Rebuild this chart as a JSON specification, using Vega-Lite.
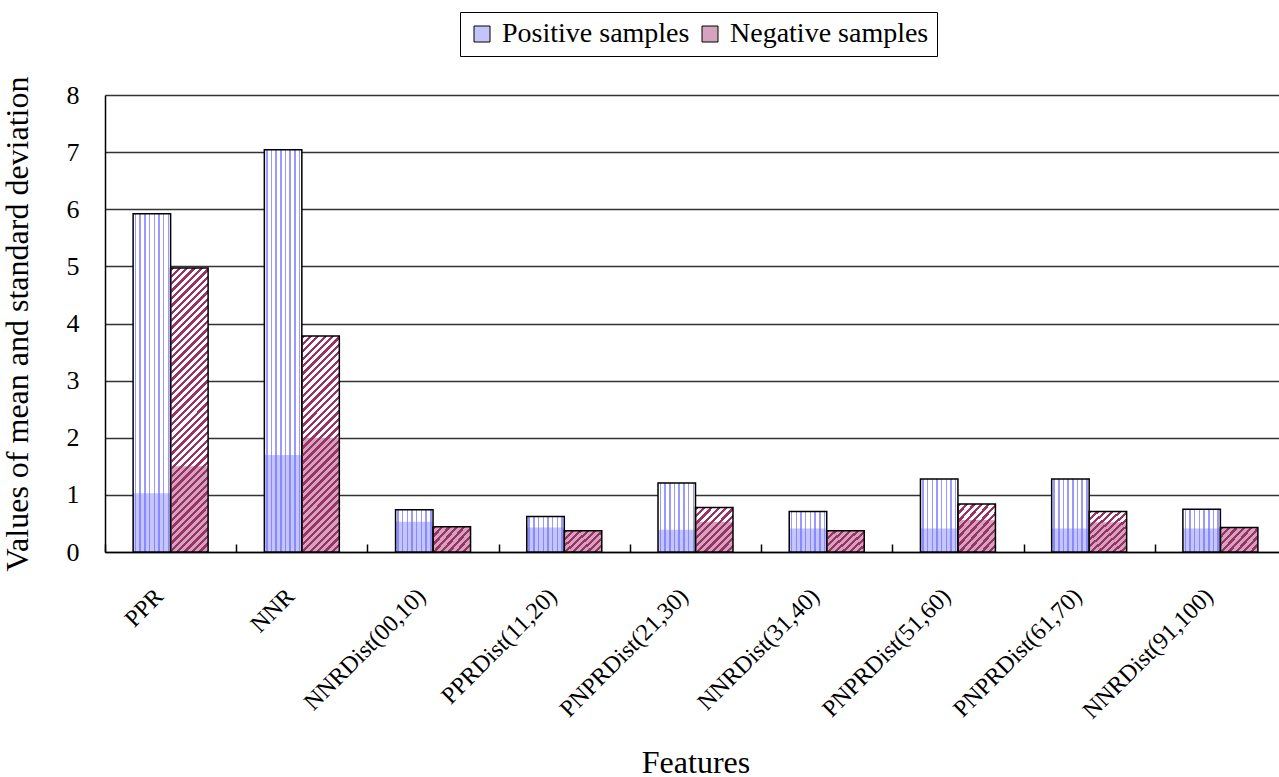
{
"$schema": "https://vega.github.io/schema/vega-lite/v6.json",
"autosize": {"type": "none"},
"width": 1174,
"height": 457,
"padding": {"left": 105, "top": 95, "right": 0, "bottom": 225},
"background": "white",
"data": {"values": [
{"feature":"PPR","sample":"Positive samples","mean":5.92,"sd":1.03},
{"feature":"PPR","sample":"Negative samples","mean":4.97,"sd":1.5},
{"feature":"NNR","sample":"Positive samples","mean":7.04,"sd":1.7},
{"feature":"NNR","sample":"Negative samples","mean":3.78,"sd":2.0},
{"feature":"NNRDist(00,10)","sample":"Positive samples","mean":0.74,"sd":0.53},
{"feature":"NNRDist(00,10)","sample":"Negative samples","mean":0.44,"sd":0.44},
{"feature":"PPRDist(11,20)","sample":"Positive samples","mean":0.62,"sd":0.43},
{"feature":"PPRDist(11,20)","sample":"Negative samples","mean":0.37,"sd":0.37},
{"feature":"PNPRDist(21,30)","sample":"Positive samples","mean":1.21,"sd":0.39},
{"feature":"PNPRDist(21,30)","sample":"Negative samples","mean":0.78,"sd":0.53},
{"feature":"NNRDist(31,40)","sample":"Positive samples","mean":0.71,"sd":0.41},
{"feature":"NNRDist(31,40)","sample":"Negative samples","mean":0.37,"sd":0.37},
{"feature":"PNPRDist(51,60)","sample":"Positive samples","mean":1.28,"sd":0.41},
{"feature":"PNPRDist(51,60)","sample":"Negative samples","mean":0.84,"sd":0.56},
{"feature":"PNPRDist(61,70)","sample":"Positive samples","mean":1.28,"sd":0.41},
{"feature":"PNPRDist(61,70)","sample":"Negative samples","mean":0.71,"sd":0.52},
{"feature":"NNRDist(91,100)","sample":"Positive samples","mean":0.75,"sd":0.41},
{"feature":"NNRDist(91,100)","sample":"Negative samples","mean":0.43,"sd":0.43}
]},
"encoding": {
"x": {"field": "feature", "type": "nominal", "sort": null,
"scale": {"range": [0, 1181], "paddingInner": 0, "paddingOuter": 0},
"axis": {"title": "Features", "titleFontSize": 32, "titlePadding": 24, "labelFontSize": 24, "labelAngle": -45, "labelAlign": "right", "labelBaseline": "top", "labelPadding": 40, "labelOffset": -20, "labelLimit": 0, "labelOverlap": false, "ticks": true, "tickBand": "extent", "tickSize": -8, "tickColor": "#000000", "tickWidth": 1.5, "domainColor": "#000000", "domainWidth": 1.5, "grid": false}},
"xOffset": {"field": "sample", "type": "nominal", "sort": ["Positive samples", "Negative samples"], "scale": {"domain": ["Positive samples", "Negative samples"], "paddingInner": 0, "paddingOuter": 0.75}}
},
"layer": [
{"mark": {"type": "bar", "fill": "white"},
"encoding": {"y": {"field": "mean", "type": "quantitative", "title": "Values of mean and standard deviation",
"scale": {"domain": [0, 8], "nice": false},
"axis": {"values": [0,1,2,3,4,5,6,7,8], "format": "d", "ticks": false, "grid": true, "gridColor": "#333333", "gridWidth": 1.5, "domainColor": "#000000", "domainWidth": 1.5, "labelFontSize": 26, "labelPadding": 26, "titleFontSize": 32, "titlePadding": 32, "labelFlush": false}}}},
{"mark": {"type": "bar"},
"encoding": {"y": {"field": "sd", "type": "quantitative", "title": "Values of mean and standard deviation"},
"fill": {"field": "sample", "type": "nominal", "scale": {"domain": ["Positive samples", "Negative samples"], "range": ["#c4c4ff", "#d5a3bd"]},
"legend": {"title": null, "orient": "none", "legendX": 355, "legendY": -83, "direction": "horizontal", "strokeColor": "#000000", "fillColor": "white", "padding": 8, "labelFontSize": 28, "labelFont": "Liberation Serif", "labelLimit": 0, "symbolType": "square", "symbolSize": 256, "symbolStrokeColor": "#000000", "symbolStrokeWidth": 1, "columnPadding": 6, "labelOffset": 6}}}},
{"transform": [{"filter": "datum.sample === 'Positive samples'"}],
"mark": {"type": "bar", "stroke": "#000000", "strokeWidth": 1.5,
"fill": {"gradient": "linear", "x1": 0, "y1": 0, "x2": 1, "y2": 0, "stops": [
{"offset":0.045,"color":"#6e6eff00"},{"offset":0.045,"color":"#6e6effb3"},{"offset":0.085,"color":"#6e6effb3"},{"offset":0.085,"color":"#6e6eff00"},
{"offset":0.17,"color":"#6e6eff00"},{"offset":0.17,"color":"#6e6effb3"},{"offset":0.21,"color":"#6e6effb3"},{"offset":0.21,"color":"#6e6eff00"},
{"offset":0.295,"color":"#6e6eff00"},{"offset":0.295,"color":"#6e6effb3"},{"offset":0.335,"color":"#6e6effb3"},{"offset":0.335,"color":"#6e6eff00"},
{"offset":0.42,"color":"#6e6eff00"},{"offset":0.42,"color":"#6e6effb3"},{"offset":0.46,"color":"#6e6effb3"},{"offset":0.46,"color":"#6e6eff00"},
{"offset":0.545,"color":"#6e6eff00"},{"offset":0.545,"color":"#6e6effb3"},{"offset":0.585,"color":"#6e6effb3"},{"offset":0.585,"color":"#6e6eff00"},
{"offset":0.67,"color":"#6e6eff00"},{"offset":0.67,"color":"#6e6effb3"},{"offset":0.71,"color":"#6e6effb3"},{"offset":0.71,"color":"#6e6eff00"},
{"offset":0.795,"color":"#6e6eff00"},{"offset":0.795,"color":"#6e6effb3"},{"offset":0.835,"color":"#6e6effb3"},{"offset":0.835,"color":"#6e6eff00"},
{"offset":0.92,"color":"#6e6eff00"},{"offset":0.92,"color":"#6e6effb3"},{"offset":0.96,"color":"#6e6effb3"},{"offset":0.96,"color":"#6e6eff00"}
]}},
"encoding": {"y": {"field": "mean", "type": "quantitative", "title": "Values of mean and standard deviation"}}},
{"transform": [{"filter": "datum.sample === 'Negative samples' && datum.mean > 4.5"}],
"mark": {"type": "bar", "stroke": "#000000", "strokeWidth": 1.5,
"fill": {"gradient": "linear", "x1": 0, "y1": 0, "x2": 0.16943, "y2": 1.28179, "stops": [
{"offset":0,"color":"#993366"},{"offset":0.009,"color":"#993366"},{"offset":0.009,"color":"#99336600"},
{"offset":0.02,"color":"#99336600"},{"offset":0.02,"color":"#993366"},{"offset":0.029,"color":"#993366"},{"offset":0.029,"color":"#99336600"},
{"offset":0.04,"color":"#99336600"},{"offset":0.04,"color":"#993366"},{"offset":0.049,"color":"#993366"},{"offset":0.049,"color":"#99336600"},
{"offset":0.06,"color":"#99336600"},{"offset":0.06,"color":"#993366"},{"offset":0.069,"color":"#993366"},{"offset":0.069,"color":"#99336600"},
{"offset":0.08,"color":"#99336600"},{"offset":0.08,"color":"#993366"},{"offset":0.089,"color":"#993366"},{"offset":0.089,"color":"#99336600"},
{"offset":0.1,"color":"#99336600"},{"offset":0.1,"color":"#993366"},{"offset":0.109,"color":"#993366"},{"offset":0.109,"color":"#99336600"},
{"offset":0.12,"color":"#99336600"},{"offset":0.12,"color":"#993366"},{"offset":0.129,"color":"#993366"},{"offset":0.129,"color":"#99336600"},
{"offset":0.14,"color":"#99336600"},{"offset":0.14,"color":"#993366"},{"offset":0.149,"color":"#993366"},{"offset":0.149,"color":"#99336600"},
{"offset":0.16,"color":"#99336600"},{"offset":0.16,"color":"#993366"},{"offset":0.169,"color":"#993366"},{"offset":0.169,"color":"#99336600"},
{"offset":0.18,"color":"#99336600"},{"offset":0.18,"color":"#993366"},{"offset":0.189,"color":"#993366"},{"offset":0.189,"color":"#99336600"},
{"offset":0.2,"color":"#99336600"},{"offset":0.2,"color":"#993366"},{"offset":0.209,"color":"#993366"},{"offset":0.209,"color":"#99336600"},
{"offset":0.22,"color":"#99336600"},{"offset":0.22,"color":"#993366"},{"offset":0.229,"color":"#993366"},{"offset":0.229,"color":"#99336600"},
{"offset":0.24,"color":"#99336600"},{"offset":0.24,"color":"#993366"},{"offset":0.249,"color":"#993366"},{"offset":0.249,"color":"#99336600"},
{"offset":0.26,"color":"#99336600"},{"offset":0.26,"color":"#993366"},{"offset":0.269,"color":"#993366"},{"offset":0.269,"color":"#99336600"},
{"offset":0.28,"color":"#99336600"},{"offset":0.28,"color":"#993366"},{"offset":0.289,"color":"#993366"},{"offset":0.289,"color":"#99336600"},
{"offset":0.3,"color":"#99336600"},{"offset":0.3,"color":"#993366"},{"offset":0.309,"color":"#993366"},{"offset":0.309,"color":"#99336600"},
{"offset":0.32,"color":"#99336600"},{"offset":0.32,"color":"#993366"},{"offset":0.329,"color":"#993366"},{"offset":0.329,"color":"#99336600"},
{"offset":0.34,"color":"#99336600"},{"offset":0.34,"color":"#993366"},{"offset":0.349,"color":"#993366"},{"offset":0.349,"color":"#99336600"},
{"offset":0.36,"color":"#99336600"},{"offset":0.36,"color":"#993366"},{"offset":0.369,"color":"#993366"},{"offset":0.369,"color":"#99336600"},
{"offset":0.38,"color":"#99336600"},{"offset":0.38,"color":"#993366"},{"offset":0.389,"color":"#993366"},{"offset":0.389,"color":"#99336600"},
{"offset":0.4,"color":"#99336600"},{"offset":0.4,"color":"#993366"},{"offset":0.409,"color":"#993366"},{"offset":0.409,"color":"#99336600"},
{"offset":0.42,"color":"#99336600"},{"offset":0.42,"color":"#993366"},{"offset":0.429,"color":"#993366"},{"offset":0.429,"color":"#99336600"},
{"offset":0.44,"color":"#99336600"},{"offset":0.44,"color":"#993366"},{"offset":0.449,"color":"#993366"},{"offset":0.449,"color":"#99336600"},
{"offset":0.46,"color":"#99336600"},{"offset":0.46,"color":"#993366"},{"offset":0.469,"color":"#993366"},{"offset":0.469,"color":"#99336600"},
{"offset":0.48,"color":"#99336600"},{"offset":0.48,"color":"#993366"},{"offset":0.489,"color":"#993366"},{"offset":0.489,"color":"#99336600"},
{"offset":0.5,"color":"#99336600"},{"offset":0.5,"color":"#993366"},{"offset":0.509,"color":"#993366"},{"offset":0.509,"color":"#99336600"},
{"offset":0.52,"color":"#99336600"},{"offset":0.52,"color":"#993366"},{"offset":0.529,"color":"#993366"},{"offset":0.529,"color":"#99336600"},
{"offset":0.54,"color":"#99336600"},{"offset":0.54,"color":"#993366"},{"offset":0.549,"color":"#993366"},{"offset":0.549,"color":"#99336600"},
{"offset":0.56,"color":"#99336600"},{"offset":0.56,"color":"#993366"},{"offset":0.569,"color":"#993366"},{"offset":0.569,"color":"#99336600"},
{"offset":0.58,"color":"#99336600"},{"offset":0.58,"color":"#993366"},{"offset":0.589,"color":"#993366"},{"offset":0.589,"color":"#99336600"},
{"offset":0.6,"color":"#99336600"},{"offset":0.6,"color":"#993366"},{"offset":0.609,"color":"#993366"},{"offset":0.609,"color":"#99336600"},
{"offset":0.62,"color":"#99336600"},{"offset":0.62,"color":"#993366"},{"offset":0.629,"color":"#993366"},{"offset":0.629,"color":"#99336600"},
{"offset":0.64,"color":"#99336600"},{"offset":0.64,"color":"#993366"},{"offset":0.649,"color":"#993366"},{"offset":0.649,"color":"#99336600"},
{"offset":0.66,"color":"#99336600"},{"offset":0.66,"color":"#993366"},{"offset":0.669,"color":"#993366"},{"offset":0.669,"color":"#99336600"},
{"offset":0.68,"color":"#99336600"},{"offset":0.68,"color":"#993366"},{"offset":0.689,"color":"#993366"},{"offset":0.689,"color":"#99336600"},
{"offset":0.7,"color":"#99336600"},{"offset":0.7,"color":"#993366"},{"offset":0.709,"color":"#993366"},{"offset":0.709,"color":"#99336600"},
{"offset":0.72,"color":"#99336600"},{"offset":0.72,"color":"#993366"},{"offset":0.729,"color":"#993366"},{"offset":0.729,"color":"#99336600"},
{"offset":0.74,"color":"#99336600"},{"offset":0.74,"color":"#993366"},{"offset":0.749,"color":"#993366"},{"offset":0.749,"color":"#99336600"},
{"offset":0.76,"color":"#99336600"},{"offset":0.76,"color":"#993366"},{"offset":0.769,"color":"#993366"},{"offset":0.769,"color":"#99336600"},
{"offset":0.78,"color":"#99336600"},{"offset":0.78,"color":"#993366"},{"offset":0.789,"color":"#993366"},{"offset":0.789,"color":"#99336600"},
{"offset":0.8,"color":"#99336600"},{"offset":0.8,"color":"#993366"},{"offset":0.809,"color":"#993366"},{"offset":0.809,"color":"#99336600"},
{"offset":0.82,"color":"#99336600"},{"offset":0.82,"color":"#993366"},{"offset":0.829,"color":"#993366"},{"offset":0.829,"color":"#99336600"},
{"offset":0.84,"color":"#99336600"},{"offset":0.84,"color":"#993366"},{"offset":0.849,"color":"#993366"},{"offset":0.849,"color":"#99336600"},
{"offset":0.86,"color":"#99336600"},{"offset":0.86,"color":"#993366"},{"offset":0.869,"color":"#993366"},{"offset":0.869,"color":"#99336600"},
{"offset":0.88,"color":"#99336600"},{"offset":0.88,"color":"#993366"},{"offset":0.889,"color":"#993366"},{"offset":0.889,"color":"#99336600"},
{"offset":0.9,"color":"#99336600"},{"offset":0.9,"color":"#993366"},{"offset":0.909,"color":"#993366"},{"offset":0.909,"color":"#99336600"},
{"offset":0.92,"color":"#99336600"},{"offset":0.92,"color":"#993366"},{"offset":0.929,"color":"#993366"},{"offset":0.929,"color":"#99336600"},
{"offset":0.94,"color":"#99336600"},{"offset":0.94,"color":"#993366"},{"offset":0.949,"color":"#993366"},{"offset":0.949,"color":"#99336600"},
{"offset":0.96,"color":"#99336600"},{"offset":0.96,"color":"#993366"},{"offset":0.969,"color":"#993366"},{"offset":0.969,"color":"#99336600"},
{"offset":0.98,"color":"#99336600"},{"offset":0.98,"color":"#993366"},{"offset":0.989,"color":"#993366"},{"offset":0.989,"color":"#99336600"}
]}},
"encoding": {"y": {"field": "mean", "type": "quantitative", "title": "Values of mean and standard deviation"}}},
{"transform": [{"filter": "datum.sample === 'Negative samples' && datum.mean > 3 && datum.mean <= 4.5"}],
"mark": {"type": "bar", "stroke": "#000000", "strokeWidth": 1.5,
"fill": {"gradient": "linear", "x1": 0, "y1": 0, "x2": 0.23136, "y2": 1.33142, "stops": [
{"offset":0,"color":"#993366"},{"offset":0.011,"color":"#993366"},{"offset":0.011,"color":"#99336600"},
{"offset":0.025,"color":"#99336600"},{"offset":0.025,"color":"#993366"},{"offset":0.036,"color":"#993366"},{"offset":0.036,"color":"#99336600"},
{"offset":0.05,"color":"#99336600"},{"offset":0.05,"color":"#993366"},{"offset":0.061,"color":"#993366"},{"offset":0.061,"color":"#99336600"},
{"offset":0.075,"color":"#99336600"},{"offset":0.075,"color":"#993366"},{"offset":0.086,"color":"#993366"},{"offset":0.086,"color":"#99336600"},
{"offset":0.1,"color":"#99336600"},{"offset":0.1,"color":"#993366"},{"offset":0.111,"color":"#993366"},{"offset":0.111,"color":"#99336600"},
{"offset":0.125,"color":"#99336600"},{"offset":0.125,"color":"#993366"},{"offset":0.136,"color":"#993366"},{"offset":0.136,"color":"#99336600"},
{"offset":0.15,"color":"#99336600"},{"offset":0.15,"color":"#993366"},{"offset":0.161,"color":"#993366"},{"offset":0.161,"color":"#99336600"},
{"offset":0.175,"color":"#99336600"},{"offset":0.175,"color":"#993366"},{"offset":0.186,"color":"#993366"},{"offset":0.186,"color":"#99336600"},
{"offset":0.2,"color":"#99336600"},{"offset":0.2,"color":"#993366"},{"offset":0.211,"color":"#993366"},{"offset":0.211,"color":"#99336600"},
{"offset":0.225,"color":"#99336600"},{"offset":0.225,"color":"#993366"},{"offset":0.236,"color":"#993366"},{"offset":0.236,"color":"#99336600"},
{"offset":0.25,"color":"#99336600"},{"offset":0.25,"color":"#993366"},{"offset":0.261,"color":"#993366"},{"offset":0.261,"color":"#99336600"},
{"offset":0.275,"color":"#99336600"},{"offset":0.275,"color":"#993366"},{"offset":0.286,"color":"#993366"},{"offset":0.286,"color":"#99336600"},
{"offset":0.3,"color":"#99336600"},{"offset":0.3,"color":"#993366"},{"offset":0.311,"color":"#993366"},{"offset":0.311,"color":"#99336600"},
{"offset":0.325,"color":"#99336600"},{"offset":0.325,"color":"#993366"},{"offset":0.336,"color":"#993366"},{"offset":0.336,"color":"#99336600"},
{"offset":0.35,"color":"#99336600"},{"offset":0.35,"color":"#993366"},{"offset":0.361,"color":"#993366"},{"offset":0.361,"color":"#99336600"},
{"offset":0.375,"color":"#99336600"},{"offset":0.375,"color":"#993366"},{"offset":0.386,"color":"#993366"},{"offset":0.386,"color":"#99336600"},
{"offset":0.4,"color":"#99336600"},{"offset":0.4,"color":"#993366"},{"offset":0.411,"color":"#993366"},{"offset":0.411,"color":"#99336600"},
{"offset":0.425,"color":"#99336600"},{"offset":0.425,"color":"#993366"},{"offset":0.436,"color":"#993366"},{"offset":0.436,"color":"#99336600"},
{"offset":0.45,"color":"#99336600"},{"offset":0.45,"color":"#993366"},{"offset":0.461,"color":"#993366"},{"offset":0.461,"color":"#99336600"},
{"offset":0.475,"color":"#99336600"},{"offset":0.475,"color":"#993366"},{"offset":0.486,"color":"#993366"},{"offset":0.486,"color":"#99336600"},
{"offset":0.5,"color":"#99336600"},{"offset":0.5,"color":"#993366"},{"offset":0.511,"color":"#993366"},{"offset":0.511,"color":"#99336600"},
{"offset":0.525,"color":"#99336600"},{"offset":0.525,"color":"#993366"},{"offset":0.536,"color":"#993366"},{"offset":0.536,"color":"#99336600"},
{"offset":0.55,"color":"#99336600"},{"offset":0.55,"color":"#993366"},{"offset":0.561,"color":"#993366"},{"offset":0.561,"color":"#99336600"},
{"offset":0.575,"color":"#99336600"},{"offset":0.575,"color":"#993366"},{"offset":0.586,"color":"#993366"},{"offset":0.586,"color":"#99336600"},
{"offset":0.6,"color":"#99336600"},{"offset":0.6,"color":"#993366"},{"offset":0.611,"color":"#993366"},{"offset":0.611,"color":"#99336600"},
{"offset":0.625,"color":"#99336600"},{"offset":0.625,"color":"#993366"},{"offset":0.636,"color":"#993366"},{"offset":0.636,"color":"#99336600"},
{"offset":0.65,"color":"#99336600"},{"offset":0.65,"color":"#993366"},{"offset":0.661,"color":"#993366"},{"offset":0.661,"color":"#99336600"},
{"offset":0.675,"color":"#99336600"},{"offset":0.675,"color":"#993366"},{"offset":0.686,"color":"#993366"},{"offset":0.686,"color":"#99336600"},
{"offset":0.7,"color":"#99336600"},{"offset":0.7,"color":"#993366"},{"offset":0.711,"color":"#993366"},{"offset":0.711,"color":"#99336600"},
{"offset":0.725,"color":"#99336600"},{"offset":0.725,"color":"#993366"},{"offset":0.736,"color":"#993366"},{"offset":0.736,"color":"#99336600"},
{"offset":0.75,"color":"#99336600"},{"offset":0.75,"color":"#993366"},{"offset":0.761,"color":"#993366"},{"offset":0.761,"color":"#99336600"},
{"offset":0.775,"color":"#99336600"},{"offset":0.775,"color":"#993366"},{"offset":0.786,"color":"#993366"},{"offset":0.786,"color":"#99336600"},
{"offset":0.8,"color":"#99336600"},{"offset":0.8,"color":"#993366"},{"offset":0.811,"color":"#993366"},{"offset":0.811,"color":"#99336600"},
{"offset":0.825,"color":"#99336600"},{"offset":0.825,"color":"#993366"},{"offset":0.836,"color":"#993366"},{"offset":0.836,"color":"#99336600"},
{"offset":0.85,"color":"#99336600"},{"offset":0.85,"color":"#993366"},{"offset":0.861,"color":"#993366"},{"offset":0.861,"color":"#99336600"},
{"offset":0.875,"color":"#99336600"},{"offset":0.875,"color":"#993366"},{"offset":0.886,"color":"#993366"},{"offset":0.886,"color":"#99336600"},
{"offset":0.9,"color":"#99336600"},{"offset":0.9,"color":"#993366"},{"offset":0.911,"color":"#993366"},{"offset":0.911,"color":"#99336600"},
{"offset":0.925,"color":"#99336600"},{"offset":0.925,"color":"#993366"},{"offset":0.936,"color":"#993366"},{"offset":0.936,"color":"#99336600"},
{"offset":0.95,"color":"#99336600"},{"offset":0.95,"color":"#993366"},{"offset":0.961,"color":"#993366"},{"offset":0.961,"color":"#99336600"},
{"offset":0.975,"color":"#99336600"},{"offset":0.975,"color":"#993366"},{"offset":0.986,"color":"#993366"},{"offset":0.986,"color":"#99336600"}
]}},
"encoding": {"y": {"field": "mean", "type": "quantitative", "title": "Values of mean and standard deviation"}}},
{"transform": [{"filter": "datum.sample === 'Negative samples' && datum.mean > 0.6 && datum.mean <= 3"}],
"mark": {"type": "bar", "stroke": "#000000", "strokeWidth": 1.5,
"fill": {"gradient": "linear", "x1": 0, "y1": 0, "x2": 1.07089, "y2": 1.26507, "stops": [
{"offset":0,"color":"#993366"},{"offset":0.034,"color":"#993366"},{"offset":0.034,"color":"#99336600"},
{"offset":0.0769,"color":"#99336600"},{"offset":0.0769,"color":"#993366"},{"offset":0.1107,"color":"#993366"},{"offset":0.1107,"color":"#99336600"},
{"offset":0.1538,"color":"#99336600"},{"offset":0.1538,"color":"#993366"},{"offset":0.1876,"color":"#993366"},{"offset":0.1876,"color":"#99336600"},
{"offset":0.2308,"color":"#99336600"},{"offset":0.2308,"color":"#993366"},{"offset":0.2646,"color":"#993366"},{"offset":0.2646,"color":"#99336600"},
{"offset":0.3077,"color":"#99336600"},{"offset":0.3077,"color":"#993366"},{"offset":0.3415,"color":"#993366"},{"offset":0.3415,"color":"#99336600"},
{"offset":0.3846,"color":"#99336600"},{"offset":0.3846,"color":"#993366"},{"offset":0.4184,"color":"#993366"},{"offset":0.4184,"color":"#99336600"},
{"offset":0.4615,"color":"#99336600"},{"offset":0.4615,"color":"#993366"},{"offset":0.4953,"color":"#993366"},{"offset":0.4953,"color":"#99336600"},
{"offset":0.5385,"color":"#99336600"},{"offset":0.5385,"color":"#993366"},{"offset":0.5723,"color":"#993366"},{"offset":0.5723,"color":"#99336600"},
{"offset":0.6154,"color":"#99336600"},{"offset":0.6154,"color":"#993366"},{"offset":0.6492,"color":"#993366"},{"offset":0.6492,"color":"#99336600"},
{"offset":0.6923,"color":"#99336600"},{"offset":0.6923,"color":"#993366"},{"offset":0.7261,"color":"#993366"},{"offset":0.7261,"color":"#99336600"},
{"offset":0.7692,"color":"#99336600"},{"offset":0.7692,"color":"#993366"},{"offset":0.803,"color":"#993366"},{"offset":0.803,"color":"#99336600"},
{"offset":0.8462,"color":"#99336600"},{"offset":0.8462,"color":"#993366"},{"offset":0.88,"color":"#993366"},{"offset":0.88,"color":"#99336600"},
{"offset":0.9231,"color":"#99336600"},{"offset":0.9231,"color":"#993366"},{"offset":0.9569,"color":"#993366"},{"offset":0.9569,"color":"#99336600"}
]}},
"encoding": {"y": {"field": "mean", "type": "quantitative", "title": "Values of mean and standard deviation"}}},
{"transform": [{"filter": "datum.sample === 'Negative samples' && datum.mean <= 0.6"}],
"mark": {"type": "bar", "stroke": "#000000", "strokeWidth": 1.5,
"fill": {"gradient": "linear", "x1": 0, "y1": 0, "x2": 1.43393, "y2": 0.87947, "stops": [
{"offset":0,"color":"#993366"},{"offset":0.044,"color":"#993366"},{"offset":0.044,"color":"#99336600"},
{"offset":0.1,"color":"#99336600"},{"offset":0.1,"color":"#993366"},{"offset":0.144,"color":"#993366"},{"offset":0.144,"color":"#99336600"},
{"offset":0.2,"color":"#99336600"},{"offset":0.2,"color":"#993366"},{"offset":0.244,"color":"#993366"},{"offset":0.244,"color":"#99336600"},
{"offset":0.3,"color":"#99336600"},{"offset":0.3,"color":"#993366"},{"offset":0.344,"color":"#993366"},{"offset":0.344,"color":"#99336600"},
{"offset":0.4,"color":"#99336600"},{"offset":0.4,"color":"#993366"},{"offset":0.444,"color":"#993366"},{"offset":0.444,"color":"#99336600"},
{"offset":0.5,"color":"#99336600"},{"offset":0.5,"color":"#993366"},{"offset":0.544,"color":"#993366"},{"offset":0.544,"color":"#99336600"},
{"offset":0.6,"color":"#99336600"},{"offset":0.6,"color":"#993366"},{"offset":0.644,"color":"#993366"},{"offset":0.644,"color":"#99336600"},
{"offset":0.7,"color":"#99336600"},{"offset":0.7,"color":"#993366"},{"offset":0.744,"color":"#993366"},{"offset":0.744,"color":"#99336600"},
{"offset":0.8,"color":"#99336600"},{"offset":0.8,"color":"#993366"},{"offset":0.844,"color":"#993366"},{"offset":0.844,"color":"#99336600"},
{"offset":0.9,"color":"#99336600"},{"offset":0.9,"color":"#993366"},{"offset":0.944,"color":"#993366"},{"offset":0.944,"color":"#99336600"}
]}},
"encoding": {"y": {"field": "mean", "type": "quantitative", "title": "Values of mean and standard deviation"}}}
],
"config": {
"font": "Liberation Serif",
"view": {"stroke": null},
"axis": {"labelColor": "#000000", "titleColor": "#000000", "titleFontWeight": "normal", "labelFont": "Liberation Serif", "titleFont": "Liberation Serif"},
"legend": {"labelColor": "#000000"}
}
}
